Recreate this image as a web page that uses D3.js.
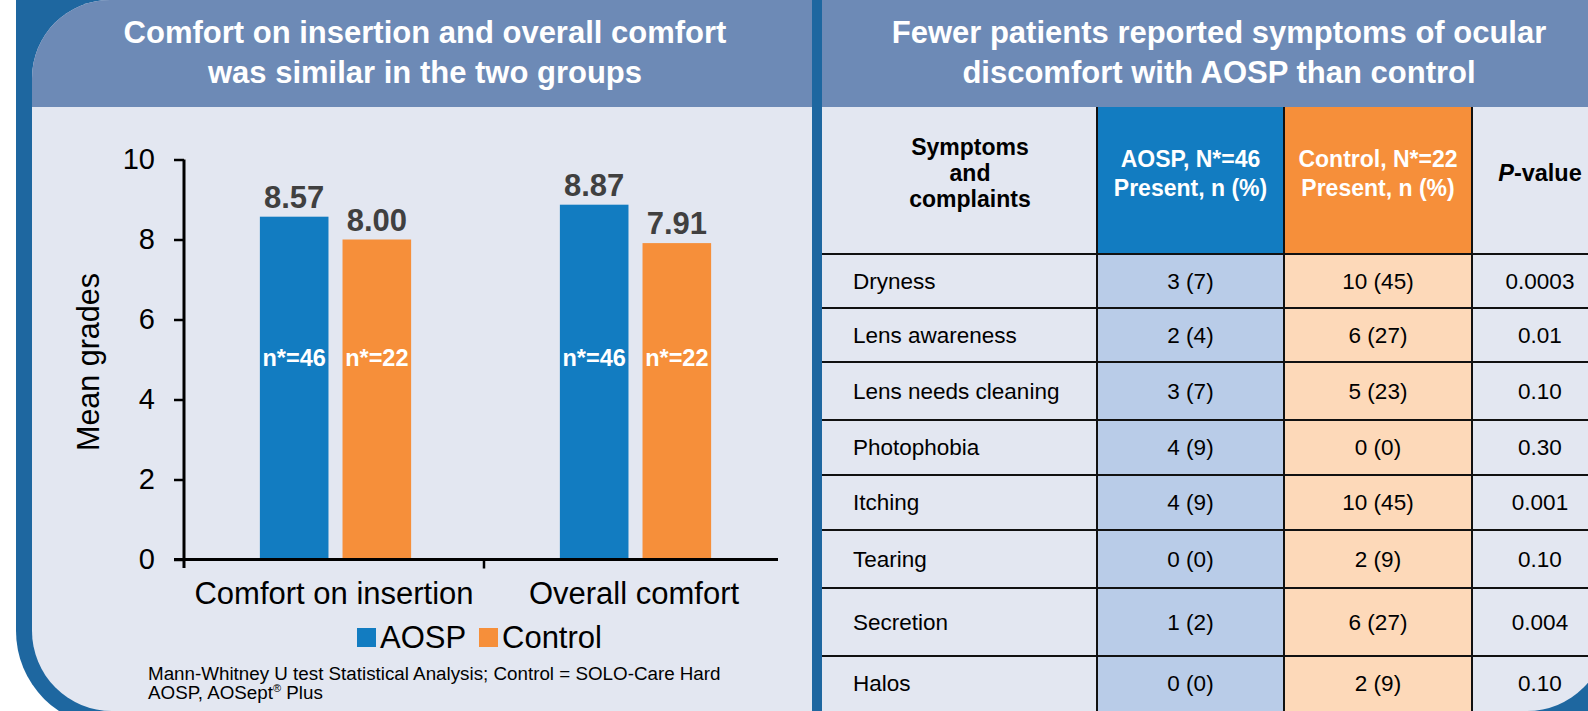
<!DOCTYPE html>
<html>
<head>
<meta charset="utf-8">
<script src="https://cdn.jsdelivr.net/npm/d3@7"></script>
<style>
  body { margin: 0; background: #fff; }
  svg { display: block; font-family: "Liberation Sans", Arial, Helvetica, sans-serif; }
</style>
</head>
<body>
<div id="vis"></div>
<script>
// chart data
const categories = ["Comfort on insertion", "Overall comfort"];
const groups = ["AOSP", "Control"];
const aospMeans = [8.57, 8.87];
const controlMeans = [8.0, 7.91];
const sampleLabels = ["n*=46", "n*=22"];
const yTicks = [0, 2, 4, 6, 8, 10];

// table data
const symptoms = ["Dryness", "Lens awareness", "Lens needs cleaning", "Photophobia", "Itching", "Tearing", "Secretion", "Halos"];
const aospPresent = ["3 (7)", "2 (4)", "3 (7)", "4 (9)", "4 (9)", "0 (0)", "1 (2)", "0 (0)"];
const controlPresent = ["10 (45)", "6 (27)", "5 (23)", "0 (0)", "10 (45)", "2 (9)", "6 (27)", "2 (9)"];
const pValues = ["0.0003", "0.01", "0.10", "0.30", "0.001", "0.10", "0.004", "0.10"];

const WIDTH = 1588, HEIGHT = 711;
const COLORS = { AOSP: "#127cc1", Control: "#f68f3a" };
const HEADER_BG = "#6d8ab6", BODY_BG = "#e3e7f1", FRAME = "#1e67a0";

const svg = d3.select("#vis").append("svg")
  .attr("width", WIDTH)
  .attr("height", HEIGHT);

// blue frame behind both panels
svg.append("rect")
  .attr("x", 16).attr("y", -120)
  .attr("width", 1800).attr("height", 847)
  .attr("rx", 96)
  .attr("fill", FRAME);

// left panel
svg.append("path")
  .attr("d", "M32,78 A78,78 0 0 1 110,0 L812,0 L812,711 L112,711 A80,80 0 0 1 32,631 Z")
  .attr("fill", BODY_BG);
svg.append("path")
  .attr("d", "M32,107 L32,78 A78,78 0 0 1 110,0 L812,0 L812,107 Z")
  .attr("fill", HEADER_BG);

// right panel
svg.append("path")
  .attr("d", "M822,0 L1607,0 L1607,631 A80,80 0 0 1 1527,711 L822,711 Z")
  .attr("fill", BODY_BG);
svg.append("rect")
  .attr("x", 822).attr("y", 0)
  .attr("width", 785).attr("height", 107)
  .attr("fill", HEADER_BG);

// titles
function title(lines, cx) {
  svg.append("g")
    .selectAll("text")
    .data(lines)
    .enter()
    .append("text")
    .attr("x", cx)
    .attr("y", (d, i) => 43 + i * 40)
    .attr("text-anchor", "middle")
    .attr("fill", "#fff")
    .style("font-weight", "bold")
    .style("font-size", "31px")
    .text((d) => d);
}
title(["Comfort on insertion and overall comfort", "was similar in the two groups"], 425);
title(["Fewer patients reported symptoms of ocular", "discomfort with AOSP than control"], 1219);

// ---- bar chart ----
const x = d3.scaleBand().domain(categories).range([184, 784]);
const xSub = d3.scaleBand().domain(groups).range([1.5, 301.5]).paddingInner(0.17).paddingOuter(0.9);
const y = d3.scaleLinear().domain([0, 10]).range([559.5, 159.5]);

const barData = [];
categories.forEach((c, i) => {
  barData.push({ cat: c, group: "AOSP", value: aospMeans[i], n: sampleLabels[0] });
  barData.push({ cat: c, group: "Control", value: controlMeans[i], n: sampleLabels[1] });
});

const chart = svg.append("g");

chart.selectAll("rect.bar")
  .data(barData)
  .enter()
  .append("rect")
  .attr("class", "bar")
  .attr("x", (d) => x(d.cat) + xSub(d.group))
  .attr("y", (d) => y(d.value))
  .attr("width", xSub.bandwidth())
  .attr("height", (d) => y(0) - y(d.value))
  .attr("fill", (d) => COLORS[d.group]);

chart.selectAll("text.val")
  .data(barData)
  .enter()
  .append("text")
  .attr("class", "val")
  .attr("x", (d) => x(d.cat) + xSub(d.group) + xSub.bandwidth() / 2)
  .attr("y", (d) => y(d.value) - 9)
  .attr("text-anchor", "middle")
  .attr("fill", "#404040")
  .style("font-weight", "bold")
  .style("font-size", "31px")
  .text((d) => d.value.toFixed(2));

chart.selectAll("text.n")
  .data(barData)
  .enter()
  .append("text")
  .attr("class", "n")
  .attr("x", (d) => x(d.cat) + xSub(d.group) + xSub.bandwidth() / 2)
  .attr("y", 366)
  .attr("text-anchor", "middle")
  .attr("fill", "#fff")
  .style("font-weight", "bold")
  .style("font-size", "23.5px")
  .text((d) => d.n);

// y axis
const yAxis = chart.append("g")
  .attr("transform", "translate(184,0)")
  .call(d3.axisLeft(y).tickValues(yTicks).tickSize(10).tickSizeOuter(0).tickPadding(19));
yAxis.select(".domain").attr("stroke-width", 3).attr("d", "M0,159.5V568");
yAxis.selectAll(".tick line").attr("stroke-width", 2.5);
yAxis.selectAll(".tick text")
  .style("font-size", "29px")
  .style("font-family", "'Liberation Sans', Arial, sans-serif")
  .attr("fill", "#000");

// x axis
chart.append("line")
  .attr("x1", 174).attr("x2", 778)
  .attr("y1", y(0)).attr("y2", y(0))
  .attr("stroke", "#000").attr("stroke-width", 3);
chart.selectAll("line.xtick")
  .data(categories.slice(1))
  .enter()
  .append("line")
  .attr("class", "xtick")
  .attr("x1", (d) => x(d)).attr("x2", (d) => x(d))
  .attr("y1", y(0)).attr("y2", y(0) + 9)
  .attr("stroke", "#000").attr("stroke-width", 2.5);
chart.selectAll("text.cat")
  .data(categories)
  .enter()
  .append("text")
  .attr("class", "cat")
  .attr("x", (d) => x(d) + x.bandwidth() / 2)
  .attr("y", 604)
  .attr("text-anchor", "middle")
  .style("font-size", "31px")
  .text((d) => d);

chart.append("text")
  .attr("transform", "translate(99,362) rotate(-90)")
  .attr("text-anchor", "middle")
  .style("font-size", "30.5px")
  .text("Mean grades");

// legend
const legendX = [357, 479];
const legend = chart.selectAll("g.leg")
  .data(groups)
  .enter()
  .append("g")
  .attr("class", "leg")
  .attr("transform", (d, i) => `translate(${legendX[i]},628)`);
legend.append("rect").attr("width", 19).attr("height", 19).attr("fill", (d) => COLORS[d]);
legend.append("text").attr("x", 23).attr("y", 20).style("font-size", "31px").text((d) => d);

// footnote
const foot = chart.append("text").attr("x", 148).attr("y", 680).style("font-size", "18.8px");
foot.text("Mann-Whitney U test Statistical Analysis; Control = SOLO-Care Hard");
const foot2 = chart.append("text").attr("x", 148).attr("y", 699).style("font-size", "18.8px");
foot2.append("tspan").text("AOSP, AOSept");
foot2.append("tspan").attr("dy", -7).style("font-size", "11px").text("®");
foot2.append("tspan").attr("dy", 7).text(" Plus");

// ---- table ----
const COL_EDGES = [822, 1097, 1284, 1472, 1608];
const ROW_EDGES = [107, 254, 308, 362, 420, 475, 530, 588, 656, 711];
const table = svg.append("g");

// column fills
table.append("rect").attr("x", COL_EDGES[1]).attr("y", ROW_EDGES[0])
  .attr("width", COL_EDGES[2] - COL_EDGES[1]).attr("height", ROW_EDGES[1] - ROW_EDGES[0]).attr("fill", COLORS.AOSP);
table.append("rect").attr("x", COL_EDGES[2]).attr("y", ROW_EDGES[0])
  .attr("width", COL_EDGES[3] - COL_EDGES[2]).attr("height", ROW_EDGES[1] - ROW_EDGES[0]).attr("fill", COLORS.Control);
table.append("rect").attr("x", COL_EDGES[1]).attr("y", ROW_EDGES[1])
  .attr("width", COL_EDGES[2] - COL_EDGES[1]).attr("height", HEIGHT - ROW_EDGES[1]).attr("fill", "#b9cce8");
table.append("rect").attr("x", COL_EDGES[2]).attr("y", ROW_EDGES[1])
  .attr("width", COL_EDGES[3] - COL_EDGES[2]).attr("height", HEIGHT - ROW_EDGES[1]).attr("fill", "#fdd9b9");

// grid lines
table.selectAll("line.h")
  .data(ROW_EDGES.slice(1, -1))
  .enter()
  .append("line")
  .attr("x1", COL_EDGES[0]).attr("x2", WIDTH)
  .attr("y1", (d) => d).attr("y2", (d) => d)
  .attr("stroke", "#111").attr("stroke-width", 2);
table.selectAll("line.v")
  .data(COL_EDGES.slice(1, -1))
  .enter()
  .append("line")
  .attr("x1", (d) => d).attr("x2", (d) => d)
  .attr("y1", ROW_EDGES[0]).attr("y2", HEIGHT)
  .attr("stroke", "#111").attr("stroke-width", 2);

// header text
const colCenter = (i) => (COL_EDGES[i] + COL_EDGES[i + 1]) / 2;
function headerLines(lines, cx, y0, step, color) {
  table.append("g")
    .selectAll("text")
    .data(lines)
    .enter()
    .append("text")
    .attr("x", cx)
    .attr("y", (d, i) => y0 + i * step)
    .attr("text-anchor", "middle")
    .attr("fill", color)
    .style("font-weight", "bold")
    .style("font-size", "23px")
    .text((d) => d);
}
headerLines(["Symptoms", "and", "complaints"], 970, 155, 26, "#000");
headerLines(["AOSP, N*=46", "Present, n (%)"], colCenter(1), 167, 29, "#fff");
headerLines(["Control, N*=22", "Present, n (%)"], colCenter(2), 167, 29, "#fff");
const pv = table.append("text")
  .attr("x", 1540).attr("y", 181)
  .attr("text-anchor", "middle")
  .style("font-weight", "bold")
  .style("font-size", "23.5px");
pv.append("tspan").style("font-style", "italic").text("P");
pv.append("tspan").text("-value");

// body cells
const rowMid = (i) => (ROW_EDGES[i + 1] + ROW_EDGES[i + 2]) / 2;
const columns = [
  { values: symptoms, x: 853, anchor: "start" },
  { values: aospPresent, x: colCenter(1), anchor: "middle" },
  { values: controlPresent, x: colCenter(2), anchor: "middle" },
  { values: pValues, x: 1540, anchor: "middle" },
];
columns.forEach((col) => {
  table.append("g")
    .selectAll("text")
    .data(col.values)
    .enter()
    .append("text")
    .attr("x", col.x)
    .attr("y", (d, i) => rowMid(i))
    .attr("dy", "0.35em")
    .attr("text-anchor", col.anchor)
    .style("font-size", "22.5px")
    .text((d) => d);
});
</script>
</body>
</html>
